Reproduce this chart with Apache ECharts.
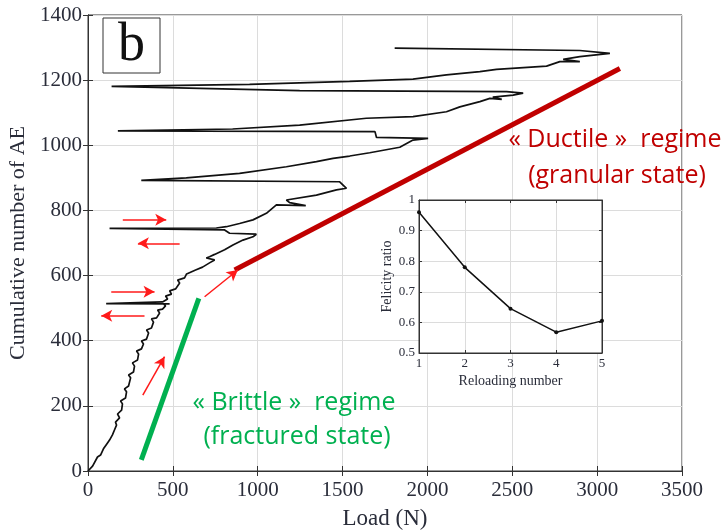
<!DOCTYPE html>
<html>
<head>
<meta charset="utf-8">
<script src="https://cdn.jsdelivr.net/npm/echarts@6/dist/echarts.min.js"></script>
<style>html,body{margin:0;padding:0;background:#fff}#c{width:726px;height:532px}</style>
</head>
<body>
<div id="c"></div>
<script>
// Main curve: load (N) vs cumulative AE, traced in path order
const loadN = [0,27,56,74,91,115,127,144,133,156,168,162,186,174,198,203,192,221,227,215,239,251,239,268,274,262,292,298,286,315,327,315,345,357,345,374,386,374,404,422,410,439,457,445,481,
  107,
  439,469,457,492,481,516,540,528,569,581,634,675,716,746,697,716,746,805,854,913,972,992,
  834,805,127,
  756,815,893,972,1051,1110,1283,1188,1169,1346,1464,1523,
  1483,314,
  579,893,1169,1346,1444,1542,1660,1837,1915,2004,
  1700,1691,176,
  852,1247,1640,1915,2112,2191,2309,2368,2438,2385,2505,2564,
  2466,1247,139,
  952,1542,1915,2112,2309,2407,2702,2780,2898,2800,2898,3075,
  2898,1807];
const aeCount = [0,15,43,49,68,86,95,111,117,126,141,150,163,175,187,206,215,224,243,252,261,286,295,304,322,332,341,359,368,375,390,399,405,424,433,439,457,467,470,485,494,497,507,513,513,
  514,
  519,528,537,543,553,559,577,586,593,605,617,626,639,648,654,658,665,679,694,709,719,727,
  730,740,745,
  746,750,760,771,791,817,815,824,832,847,863,868,
  888,892,
  900,914,934,950,960,967,977,994,1016,1021,
  1024,1042,1044,
  1050,1062,1083,1088,1103,1118,1134,1144,1141,1148,1154,1160,
  1165,1168,1181,
  1187,1196,1203,1216,1226,1233,1243,1257,1257,1264,1272,1282,
  1291,1298];

// Inset: Felicity ratio vs reloading number
const reloadNo = [1,2,3,4,5];
const felicity = [0.96,0.78,0.645,0.568,0.605];

// Annotation lines (data units)
const ductileLoad = [864,3134], ductileAE = [617,1236];
const brittleLoad = [314,653], brittleAE = [34,530];
const arrowFrom = [[205,771],[540,699],[137,550],[333,477],[323,233],[687,535]];
const arrowTo   = [[461,771],[294,699],[392,550],[78,477],[451,351],[883,617]];

const xTicks = [0,500,1000,1500,2000,2500,3000,3500];
const yTicks = [0,200,400,600,800,1000,1200,1400];

const serif = 'Liberation Serif';
const labCol = '#2a2d3a';
const plain = v => String(v);

const chart = echarts.init(document.getElementById('c'), null, {renderer:'canvas'});
const mainCurve = loadN.map((x,i)=>[x,aeCount[i]]);
const inset = reloadNo.map((x,i)=>[x,felicity[i]]);

const option = {
  animation:false,
  backgroundColor:'#fff',
  grid:[
    {left:88, right:44, top:15, bottom:61, outerBoundsMode:'none', containLabel:false, show:true, borderColor:'#333', borderWidth:1, backgroundColor:'transparent'},
    {left:419, width:183, top:200, height:153, outerBoundsMode:'none', containLabel:false, show:true, borderColor:'#333', borderWidth:1, backgroundColor:'#fff', z:5}
  ],
  xAxis:[
    {gridIndex:0, type:'value', min:xTicks[0], max:xTicks[xTicks.length-1], interval:500,
     axisLine:{show:true,lineStyle:{color:'#333'}}, axisTick:{inside:true,length:5,lineStyle:{color:'#333'}},
     splitLine:{show:true,lineStyle:{color:'#dcdcdc'}},
     axisLabel:{fontFamily:serif,fontSize:21,color:labCol,margin:9,formatter:plain},
     name:'Load (N)', nameLocation:'middle', nameGap:36,
     nameTextStyle:{fontFamily:serif,fontSize:23,color:labCol}},
    {gridIndex:0, type:'value', position:'top', min:0, max:3500, interval:500,
     axisLine:{show:true,lineStyle:{color:'#333'}}, axisTick:{inside:true,length:5,lineStyle:{color:'#333'}},
     splitLine:{show:false}, axisLabel:{show:false}},
    {gridIndex:1, type:'value', min:1, max:5, interval:1, z:6,
     axisLine:{show:true,lineStyle:{color:'#333'}}, axisTick:{inside:true,length:3,lineStyle:{color:'#333'}},
     splitLine:{show:true,lineStyle:{color:'#dcdcdc'}},
     axisLabel:{fontFamily:serif,fontSize:13,color:labCol,margin:4},
     name:'Reloading number', nameLocation:'middle', nameGap:21,
     nameTextStyle:{fontFamily:serif,fontSize:14,color:labCol}},
    {gridIndex:1, type:'value', position:'top', min:1, max:5, interval:1, z:6,
     axisLine:{show:true,lineStyle:{color:'#333'}}, axisTick:{inside:true,length:3,lineStyle:{color:'#333'}},
     splitLine:{show:false}, axisLabel:{show:false}}
  ],
  yAxis:[
    {gridIndex:0, type:'value', min:yTicks[0], max:yTicks[yTicks.length-1], interval:200,
     axisLine:{show:true,lineStyle:{color:'#333'}}, axisTick:{inside:true,length:5,lineStyle:{color:'#333'}},
     splitLine:{show:true,lineStyle:{color:'#dcdcdc'}},
     axisLabel:{fontFamily:serif,fontSize:21,color:labCol,margin:6,formatter:plain},
     name:'Cumulative number of AE', nameLocation:'middle', nameGap:50,
     nameTextStyle:{fontFamily:serif,fontSize:22,color:labCol}},
    {gridIndex:0, type:'value', position:'right', min:0, max:1400, interval:200,
     axisLine:{show:true,lineStyle:{color:'#333'}}, axisTick:{inside:true,length:5,lineStyle:{color:'#333'}},
     splitLine:{show:false}, axisLabel:{show:false}},
    {gridIndex:1, type:'value', min:0.5, max:1, interval:0.1, z:6,
     axisLine:{show:true,lineStyle:{color:'#333'}}, axisTick:{inside:true,length:3,lineStyle:{color:'#333'}},
     splitLine:{show:true,lineStyle:{color:'#dcdcdc'}},
     axisLabel:{fontFamily:serif,fontSize:13,color:labCol,margin:4,
       formatter:v=>Math.abs(v-1)<1e-9?'1':v.toFixed(1)},
     name:'Felicity ratio', nameLocation:'middle', nameGap:25,
     nameTextStyle:{fontFamily:serif,fontSize:14,color:labCol}},
    {gridIndex:1, type:'value', position:'right', min:0.5, max:1, interval:0.1, z:6,
     axisLine:{show:true,lineStyle:{color:'#333'}}, axisTick:{inside:true,length:3,lineStyle:{color:'#333'}},
     splitLine:{show:false}, axisLabel:{show:false}}
  ],
  series:[
    {type:'line', xAxisIndex:0, yAxisIndex:0, data:mainCurve, showSymbol:false, symbol:'none',
     lineStyle:{color:'#111',width:1.7}, z:3},
    {type:'line', xAxisIndex:0, yAxisIndex:0, data:ductileLoad.map((x,i)=>[x,ductileAE[i]]), symbol:'none',
     lineStyle:{color:'#c00000',width:5,cap:'butt'}, z:4},
    {type:'line', xAxisIndex:0, yAxisIndex:0, data:brittleLoad.map((x,i)=>[x,brittleAE[i]]), symbol:'none',
     lineStyle:{color:'#00b050',width:5,cap:'butt'}, z:4},
    {type:'line', xAxisIndex:0, yAxisIndex:0, data:[], symbol:'none', z:4,
     markLine:{silent:true, symbol:['none','arrow'], symbolSize:[9,11], animation:false,
       label:{show:false}, lineStyle:{color:'#ff1a1a',width:1.5,type:'solid'},
       data:arrowFrom.map((p,i)=>[{coord:p},{coord:arrowTo[i]}])}},
    {type:'line', xAxisIndex:2, yAxisIndex:2, data:inset, symbol:'circle', symbolSize:4, showSymbol:true,
     itemStyle:{color:'#111'}, lineStyle:{color:'#111',width:1.5}, z:8}
  ],
  graphic:[
    {type:'rect', shape:{x:103,y:18,width:57,height:55}, style:{fill:'#fff',stroke:'#333',lineWidth:1}, z:10},
    {type:'text', x:131.5, y:46, style:{text:'b', font:'54px "Liberation Serif"', fill:'#111', textAlign:'center', textVerticalAlign:'middle'}, z:11},
    {type:'text', x:615, y:140, style:{text:'\u00ab Ductile \u00bb  regime', font:'25px "Open Sans"', fill:'#c00000', textAlign:'center', textVerticalAlign:'middle'}, z:11},
    {type:'text', x:617, y:176, style:{text:'(granular state)', font:'25px "Open Sans"', fill:'#c00000', textAlign:'center', textVerticalAlign:'middle'}, z:11},
    {type:'text', x:294, y:403, style:{text:'\u00ab Brittle \u00bb  regime', font:'25px "Open Sans"', fill:'#00b050', textAlign:'center', textVerticalAlign:'middle'}, z:11},
    {type:'text', x:297, y:437, style:{text:'(fractured state)', font:'25px "Open Sans"', fill:'#00b050', textAlign:'center', textVerticalAlign:'middle'}, z:11}
  ]
};
chart.setOption(option);
</script>
</body>
</html>
